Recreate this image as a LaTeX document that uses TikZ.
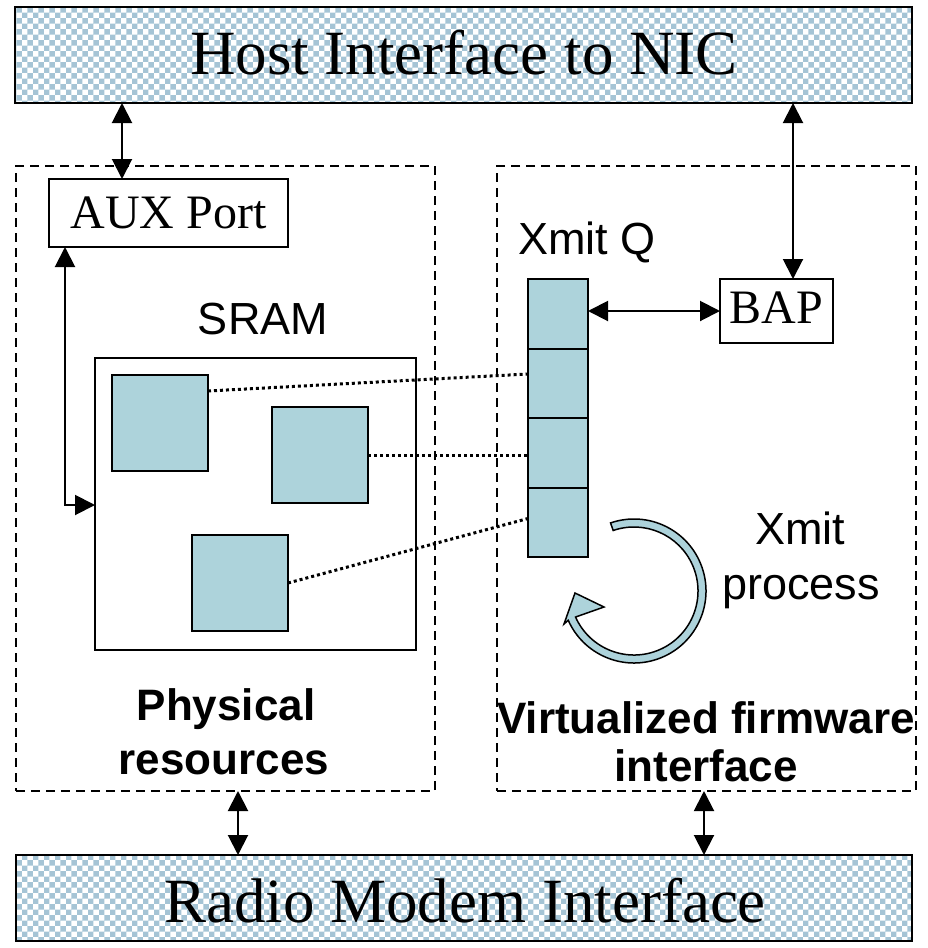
\documentclass[tikz,border=0pt]{standalone}
\usepackage{fontspec}
\setmainfont{Liberation Serif}
\setsansfont{Liberation Sans}
\usetikzlibrary{arrows.meta,patterns,calc}

\definecolor{qblue}{RGB}{173,211,219}
\definecolor{hatchblue}{RGB}{165,196,213}

\begin{document}
\begin{tikzpicture}[x=1pt,y=-1pt,
  >={Triangle[length=20pt 0 0,width=20pt 0 0]},
  box/.style={draw=black,line width=2pt,inner sep=0pt,outer sep=0pt,anchor=north west},
  bar/.style={box,pattern=checkerboard,pattern color=hatchblue},
  cell/.style={box,fill=qblue},
  region/.style={box,line width=2pt,dash pattern=on 9pt off 6pt},
  dbl/.style={<->,line width=2pt},
  dots/.style={line width=3pt,dash pattern=on 3pt off 3pt},
  lbl/.style={inner sep=0pt,anchor=base},
  titlefont/.style={lbl,font=\fontsize{63}{63}\selectfont},
  portfont/.style={lbl,font=\fontsize{48}{48}\selectfont},
  sanslbl/.style={lbl,font=\sffamily\fontsize{45}{45}\selectfont},
  boldlbl/.style={lbl,font=\sffamily\bfseries\fontsize{44}{44}\selectfont}
]
\useasboundingbox (0,0) rectangle (927,948);

% interface bars
\node[bar,minimum width=897pt,minimum height=96pt] (host) at (15,7) {};
\node[titlefont] (hosttxt) at (464,74) {Host Interface to NIC};
\node[bar,minimum width=896pt,minimum height=86pt] (radio) at (16,855) {};
\node[titlefont] (radiotxt) at (465,922) {Radio Modem Interface};

% dashed regions
\node[region,minimum width=419pt,minimum height=625pt] (phys) at (16,166) {};
\node[region,minimum width=419pt,minimum height=625pt] (virt) at (497,166) {};

% physical side
\node[box,minimum width=239pt,minimum height=68pt] (aux) at (49,179) {};
\node[portfont] (auxtxt) at (168.5,228) {AUX Port};
\node[sanslbl] (sramtxt) at (263,334) {SRAM};
\node[box,minimum width=321pt,minimum height=292pt] (sram) at (95,358) {};
\node[cell,minimum width=96pt,minimum height=96pt] (sq1) at (112,375) {};
\node[cell,minimum width=96pt,minimum height=96pt] (sq2) at (272,407) {};
\node[cell,minimum width=96pt,minimum height=96pt] (sq3) at (192,535) {};
\node[boldlbl] (physa) at (226,720) {Physical};
\node[boldlbl] (physb) at (224,774) {resources};

% virtualized side
\node[sanslbl] (qtxt) at (587,254) {Xmit Q};
\node[cell,minimum width=60pt,minimum height=70pt] (q1) at (528,279) {};
\node[cell,minimum width=60pt,minimum height=69pt] (q2) at (528,349) {};
\node[cell,minimum width=60pt,minimum height=70pt] (q3) at (528,418) {};
\node[cell,minimum width=60pt,minimum height=69pt] (q4) at (528,488) {};
\node[box,minimum width=113pt,minimum height=64pt] (bap) at (720,279) {};
\node[portfont] (baptxt) at (776.5,323) {BAP};
\node[sanslbl] (proca) at (800,544) {Xmit};
\node[sanslbl] (procb) at (801,599) {process};
\node[boldlbl] (virta) at (706,733) {Virtualized firmware};
\node[boldlbl] (virtb) at (706,781) {interface};

% circular process arrow
\coordinate (loop) at (634,591);
\draw[fill=qblue,line width=1.5pt,line join=miter]
  ($(loop)+(-109:72)$) arc[start angle=-109,end angle=156,radius=72]
  -- (564,624) -- (575,593) -- (604,607)
  -- ($(loop)+(156:64)$) arc[start angle=156,end angle=-109,radius=64]
  -- cycle;

% connectors
\coordinate (auxin) at ($(aux.north west)+(73,0)$);
\draw[dbl] (host.south -| auxin) -- (auxin);
\coordinate (auxout) at ($(aux.south west)+(16,0)$);
\coordinate (sramin) at ($(sram.north west)+(0,147)$);
\draw[dbl] (auxout) |- (sramin);
\coordinate (bapin) at ($(bap.north west)+(73,0)$);
\draw[dbl] (host.south -| bapin) -- (bapin);
\draw[dbl] (q1.east |- bap.west) -- (bap.west);
\coordinate (physout) at ($(phys.south)+(12.5,0)$);
\draw[dbl] (physout) -- (physout |- radio.north);
\coordinate (virtout) at ($(virt.south)+(-2.5,0)$);
\draw[dbl] (virtout) -- (virtout |- radio.north);

% buffer mappings
\draw[dots] ($(sq1.north east)+(0,16)$) -- ($(q2.north west)+(0,25)$);
\draw[dots] (sq2.east) -- (sq2.east -| q3.west);
\draw[dots] (sq3.east) -- ($(q4.west)+(0,-4)$);
\end{tikzpicture}
\end{document}
